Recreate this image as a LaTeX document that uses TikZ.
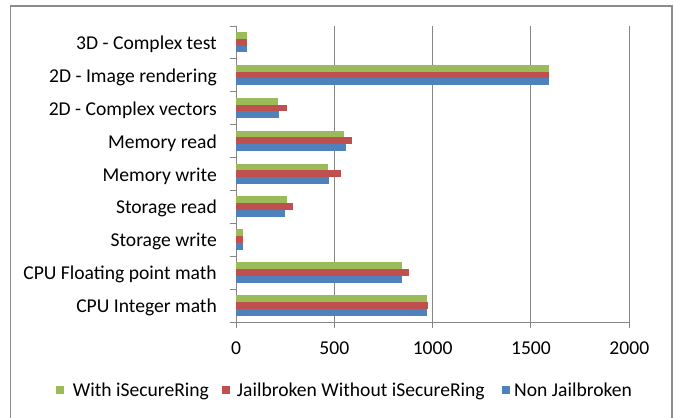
\documentclass[tikz,border=0pt]{standalone}
\usepackage{fontspec}
\setmainfont{Carlito}
\definecolor{gbar}{RGB}{155,187,89}
\definecolor{rbar}{RGB}{192,80,77}
\definecolor{bbar}{RGB}{79,129,189}
\definecolor{gridc}{RGB}{134,134,134}
\definecolor{framec}{RGB}{140,140,140}
\begin{document}
\begin{tikzpicture}[x=1bp,y=-1bp,
  lbl/.style={font=\fontsize{19.6bp}{22bp}\selectfont, inner sep=0pt, text=black},
  gridline/.style={draw=gridc, line width=1bp},
  framel/.style={draw=framec, line width=1.4bp},
  gbarst/.style={fill=gbar},
  rbarst/.style={fill=rbar},
  bbarst/.style={fill=bbar},
  keybox/.style={minimum size=8bp, inner sep=0pt, draw=none}]
\useasboundingbox (0,0) rectangle (674,417);
\fill[white] (0,0) rectangle (674,417);
\begin{scope}
\clip (0,0) rectangle (674,417);
\draw[framel] (10.5,430) -- (10.5,6) -- (672,6) -- (672,430);
\end{scope}
% gridlines
\foreach \v in {500,1000,1500,2000}
  \draw[gridline] ({236+\v*0.19665},26) -- ({236+\v*0.19665},322);
% axes
\draw[gridline] (236,26) -- (236,322) -- (629.3,322);
\foreach \k in {0,...,9}
  \draw[gridline] (229.5,{26+\k*32.89}) -- (236,{26+\k*32.89});
\foreach \v in {0,500,1000,1500,2000}{
  \draw[gridline] ({236+\v*0.19665},322) -- ({236+\v*0.19665},328);
  \node[lbl, anchor=base] (tick\v) at ({236+\v*0.19665},354) {\v};
}
% bars
\foreach \i/\lab/\g/\r/\b in {
  0/{3D - Complex test}/57/57/57,
  1/{2D - Image rendering}/1593/1593/1593,
  2/{2D - Complex vectors}/214/258/220,
  3/{Memory read}/551/588/558,
  4/{Memory write}/470/536/475,
  5/{Storage read}/258/288/251,
  6/{Storage write}/34/34/34,
  7/{CPU Floating point math}/842/880/842,
  8/{CPU Integer math}/970/978/970}{
  \pgfmathsetmacro{\top}{26+\i*32.89}
  \fill[gbarst] (236,{\top+6}) rectangle ({236+\g*0.19665},{\top+12.8});
  \fill[rbarst] (236,{\top+12.8}) rectangle ({236+\r*0.19665},{\top+19.6});
  \fill[bbarst] (236,{\top+19.6}) rectangle ({236+\b*0.19665},{\top+26.4});
  \node[lbl, anchor=base east] (cat\i) at (217,{\top+16.45+7}) {\lab};
}
% legend
\node[keybox, fill=gbar, anchor=north west] (kg) at (55.5,386) {};
\node[lbl, anchor=base west] (lg) at (72.7,396.6) {With iSecureRing};
\node[keybox, fill=rbar, anchor=north west] (kr) at (222,386) {};
\node[lbl, anchor=base west] (lr) at (236.7,396.6) {Jailbroken Without iSecureRing};
\node[keybox, fill=bbar, anchor=north west] (kb) at (501.5,386) {};
\node[lbl, anchor=base west] (lb) at (514,396.6) {Non Jailbroken};
\end{tikzpicture}
\end{document}
